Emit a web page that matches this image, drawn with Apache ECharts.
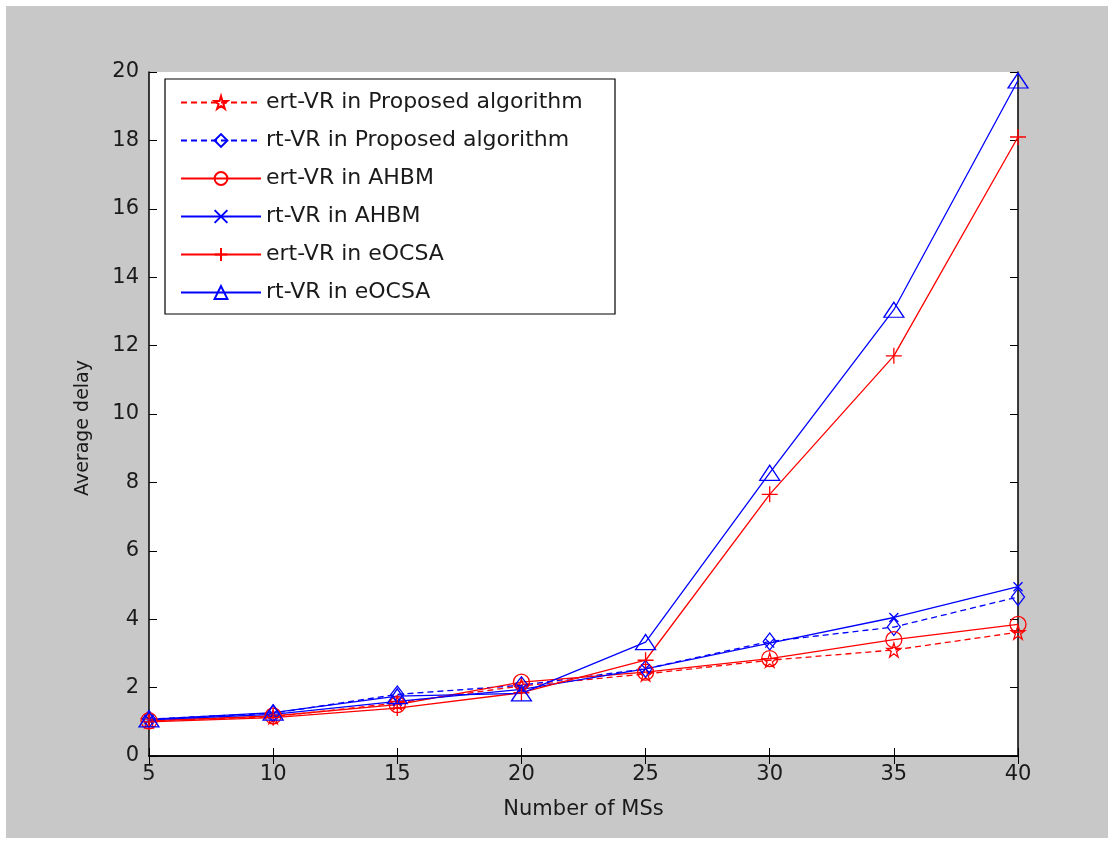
<!DOCTYPE html>
<html>
<head>
<meta charset="utf-8">
<script src="https://cdn.jsdelivr.net/npm/echarts@6/dist/echarts.min.js"></script>
<style>
  html, body { margin: 0; padding: 0; background: #fff; }
  #frame { position: absolute; left: 6px; top: 6px; width: 1102px; height: 832px; background: #c8c8c8; }
  #chart { position: absolute; left: 0; top: 0; width: 1113px; height: 841px; }
</style>
</head>
<body>
<div id="frame"></div>
<div id="chart"></div>
<script>
  // number of MSs
  var msCounts = [5, 10, 15, 20, 25, 30, 35, 40];
  // average delay
  var ertProposed = [1.03, 1.15, 1.55, 2.05, 2.4, 2.8, 3.1, 3.62];
  var rtProposed = [1.08, 1.25, 1.8, 2.07, 2.55, 3.35, 3.77, 4.65];
  var ertAHBM = [1.03, 1.17, 1.5, 2.16, 2.45, 2.85, 3.4, 3.85];
  var rtAHBM = [1.06, 1.22, 1.6, 1.95, 2.55, 3.3, 4.05, 4.95];
  var ertEOCSA = [1.0, 1.12, 1.4, 1.85, 2.8, 7.65, 11.7, 18.1];
  var rtEOCSA = [1.07, 1.27, 1.75, 1.83, 3.33, 8.28, 13.05, 19.75];
  var seriesNames = ['ert-VR in Proposed algorithm', 'rt-VR in Proposed algorithm', 'ert-VR in AHBM',
    'rt-VR in AHBM', 'ert-VR in eOCSA', 'rt-VR in eOCSA'];

  var RED = '#ff0000', BLUE = '#0000ff';
  var FONT = '"DejaVu Sans", sans-serif';
  var TXT = '#1a1a1a';
  var starPath = 'path://M50,0 L61,35 L98,35 L68,57 L79,91 L50,70 L21,91 L32,57 L2,35 L39,35 Z';
  var crossPath = 'path://M0,0L10,10M10,0L0,10';
  var plusPath = 'path://M5,0L5,10M0,5L10,5';

  function pairs(ys) {
    return msCounts.map(function (x, i) { return [x, ys[i]]; });
  }

  function makeSeries(name, ys, color, dashed, symbol, size) {
    return {
      name: name,
      type: 'line',
      data: pairs(ys),
      symbol: symbol,
      symbolSize: size,
      showAllSymbol: true,
      animation: false,
      lineStyle: { color: color, width: 1.3, type: dashed ? [6, 4] : 'solid' },
      itemStyle: { color: 'rgba(255,255,255,0)', borderColor: color, borderWidth: 1.3 }
    };
  }

  var chart = echarts.init(document.getElementById('chart'));
  var axisLine = { show: true, lineStyle: { color: '#000', width: 1.5 } };
  var tick = { show: true, inside: true, length: 8, lineStyle: { color: '#000', width: 1 } };

  var option = {
    backgroundColor: 'transparent',
    textStyle: { fontFamily: FONT },
    grid: { left: 149, top: 72, width: 869, height: 684, show: true, backgroundColor: '#fff', borderWidth: 0 },
    legend: {
      orient: 'vertical',
      left: 165,
      top: 79,
      padding: [11, 12, 9, 15],
      itemWidth: 80,
      itemHeight: 16,
      itemGap: 13,
      backgroundColor: '#fff',
      borderColor: '#000',
      borderWidth: 1.2,
      borderRadius: 0,
      textStyle: { fontFamily: FONT, fontSize: 22, color: TXT, lineHeight: 25, width: 337 },
      data: seriesNames
    },
    xAxis: [{
      type: 'value', min: 5, max: 40, interval: 5,
      name: 'Number of MSs', nameLocation: 'middle', nameGap: 43,
      nameTextStyle: { fontFamily: FONT, fontSize: 21, color: TXT },
      axisLine: axisLine, axisTick: tick, splitLine: { show: false },
      axisLabel: { fontFamily: FONT, fontSize: 21, color: TXT, margin: 8 }
    }, {
      type: 'value', position: 'top', min: 5, max: 40, interval: 5,
      axisLine: axisLine, axisTick: tick, splitLine: { show: false }, axisLabel: { show: false }
    }],
    yAxis: [{
      type: 'value', min: 0, max: 20, interval: 2,
      name: 'Average delay', nameLocation: 'middle', nameGap: 56,
      nameTextStyle: { fontFamily: FONT, fontSize: 19, color: TXT, padding: [0, 28, 0, 0] },
      axisLine: axisLine, axisTick: tick, splitLine: { show: false },
      axisLabel: { fontFamily: FONT, fontSize: 21, color: TXT, margin: 10 }
    }, {
      type: 'value', position: 'right', min: 0, max: 20, interval: 2,
      axisLine: axisLine, axisTick: tick, splitLine: { show: false }, axisLabel: { show: false }
    }],
    series: [
      makeSeries(seriesNames[0], ertProposed, RED, true, starPath, 14),
      makeSeries(seriesNames[1], rtProposed, BLUE, true, 'diamond', [13, 17]),
      makeSeries(seriesNames[2], ertAHBM, RED, false, 'circle', 16),
      makeSeries(seriesNames[3], rtAHBM, BLUE, false, crossPath, 9),
      makeSeries(seriesNames[4], ertEOCSA, RED, false, plusPath, 16),
      makeSeries(seriesNames[5], rtEOCSA, BLUE, false, 'triangle', [20, 15])
    ]
  };
  chart.setOption(option);
</script>
</body>
</html>
